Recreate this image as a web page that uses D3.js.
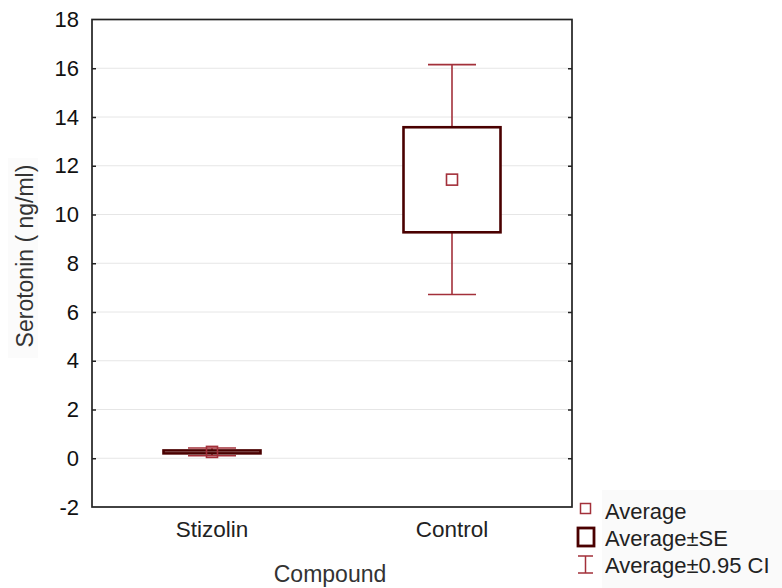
<!DOCTYPE html>
<html>
<head>
<meta charset="utf-8">
<script src="https://cdn.jsdelivr.net/npm/d3@7"></script>
<style>
  body { margin: 0; background: #fff; }
  text { font-family: "Liberation Sans", Arial, sans-serif; }
</style>
</head>
<body>
<div id="chart"></div>
<script>
// data
const categories = ["Stizolin", "Control"]
const means = [0.26, 11.43]
const seLow = [0.20, 9.27]
const seHigh = [0.32, 13.58]
const ciLow = [0.10, 6.72]
const ciHigh = [0.42, 16.15]
const yTicks = [-2, 0, 2, 4, 6, 8, 10, 12, 14, 16, 18]
const legendLabels = ["Average", "Average±SE", "Average±0.95 CI"]

const W = 782, H = 588
const mLeft = 92, mRight = 572, mTop = 19.5, mBottom = 507
const boxColor = "#4a0000", ciColor = "#a3303a"

const svg = d3.select("#chart").append("svg")
    .attr("width", W).attr("height", H)

var yScale = d3.scaleLinear().domain([-2, 18]).range([mBottom, mTop])
var xScale = d3.scaleBand().domain(categories).range([mLeft, mRight])

// faint label backgrounds
svg.append("rect").attr("x", 8).attr("y", 158).attr("width", 30).attr("height", 200).attr("fill", "#fbfbfb")
svg.append("rect").attr("x", 602).attr("y", 490).attr("width", 180).attr("height", 98).attr("fill", "#fafafa")

// grid
svg.append("g")
    .selectAll("line").data(yTicks.filter(d => d > -2 && d < 18)).enter()
    .append("line")
    .attr("x1", mLeft).attr("x2", mRight)
    .attr("y1", d => yScale(d)).attr("y2", d => yScale(d))
    .attr("stroke", "#e6e6e6").attr("stroke-width", 1)

// y axis labels + inward ticks
var yAxis = svg.append("g").attr("transform", `translate(${mLeft},0)`)
    .call(d3.axisLeft(yScale).tickValues(yTicks).tickSize(-4).tickPadding(13)
        .tickFormat(d => String(d)))
yAxis.select(".domain").remove()
yAxis.selectAll("line").attr("stroke", "#222").attr("stroke-width", 1.5)
    .attr("display", d => (d === -2 || d === 18) ? "none" : null)
yAxis.selectAll("text").attr("font-size", 22).attr("fill", "#111")
    .attr("font-family", "Liberation Sans, Arial, sans-serif")

var yRight = svg.append("g").attr("transform", `translate(${mRight},0)`)
    .call(d3.axisRight(yScale).tickValues(yTicks.filter(d => d > -2 && d < 18)).tickSize(-4).tickFormat(""))
yRight.select(".domain").remove()
yRight.selectAll("line").attr("stroke", "#222").attr("stroke-width", 1.5)

// x axis labels
var xAxis = svg.append("g").attr("transform", `translate(0,${mBottom})`)
    .call(d3.axisBottom(xScale).tickSize(0).tickPadding(14))
xAxis.select(".domain").remove()
xAxis.selectAll("text").attr("font-size", 22.5).attr("fill", "#222")
    .attr("font-family", "Liberation Sans, Arial, sans-serif")

// frame
svg.append("rect").attr("x", mLeft).attr("y", mTop)
    .attr("width", mRight - mLeft).attr("height", mBottom - mTop)
    .attr("fill", "none").attr("stroke", "#222").attr("stroke-width", 1.7)

// titles
svg.append("text").attr("x", 330).attr("y", 582).attr("text-anchor", "middle")
    .attr("font-size", 23).attr("fill", "#333").text("Compound")
svg.append("text").attr("transform", "translate(33,256) rotate(-90)")
    .attr("text-anchor", "middle").attr("font-size", 23).attr("fill", "#333")
    .text("Serotonin ( ng/ml)")

// marks
var idx = d3.range(categories.length)
var cx = i => xScale(categories[i]) + xScale.bandwidth() / 2
var boxW = 97, capW = 48, mk = 11

var g = svg.append("g")
// whiskers
g.selectAll(".whisk").data(idx).enter().append("line")
    .attr("x1", cx).attr("x2", cx)
    .attr("y1", i => yScale(ciHigh[i])).attr("y2", i => yScale(ciLow[i]))
    .attr("stroke", ciColor).attr("stroke-width", 1.6)
// SE boxes
g.selectAll(".box").data(idx).enter().append("rect")
    .attr("x", i => cx(i) - boxW / 2).attr("width", boxW)
    .attr("y", i => yScale(seHigh[i]))
    .attr("height", i => yScale(seLow[i]) - yScale(seHigh[i]))
    .attr("fill", "#fff").attr("stroke", boxColor).attr("stroke-width", 2.6)
// CI caps
;[ciLow, ciHigh].forEach(arr => {
    g.selectAll(null).data(idx).enter().append("line")
        .attr("x1", i => cx(i) - capW / 2).attr("x2", i => cx(i) + capW / 2)
        .attr("y1", i => yScale(arr[i])).attr("y2", i => yScale(arr[i]))
        .attr("stroke", ciColor).attr("stroke-width", 1.6)
})
// mean markers
g.selectAll(".mean").data(idx).enter().append("rect")
    .attr("x", i => cx(i) - mk / 2).attr("y", i => yScale(means[i]) - mk / 2)
    .attr("width", mk).attr("height", mk)
    .attr("fill", "none").attr("stroke", ciColor).attr("stroke-width", 1.6)

// legend
var lg = svg.append("g")
var rowY = [519, 546, 573]
lg.append("rect").attr("x", 580.5).attr("y", 503.5).attr("width", 10).attr("height", 10)
    .attr("fill", "#fff").attr("stroke", ciColor).attr("stroke-width", 1.5)
lg.append("rect").attr("x", 578).attr("y", 528).attr("width", 16).attr("height", 18)
    .attr("fill", "#fff").attr("stroke", boxColor).attr("stroke-width", 2.8)
lg.append("path")
    .attr("d", "M578,556H593M585.5,556V573M578,573H593")
    .attr("fill", "none").attr("stroke", ciColor).attr("stroke-width", 1.5)
lg.selectAll("text").data(legendLabels).enter().append("text")
    .attr("x", 605).attr("y", (d, i) => rowY[i])
    .attr("font-size", 22).attr("fill", "#222").text(d => d)
</script>
</body>
</html>
